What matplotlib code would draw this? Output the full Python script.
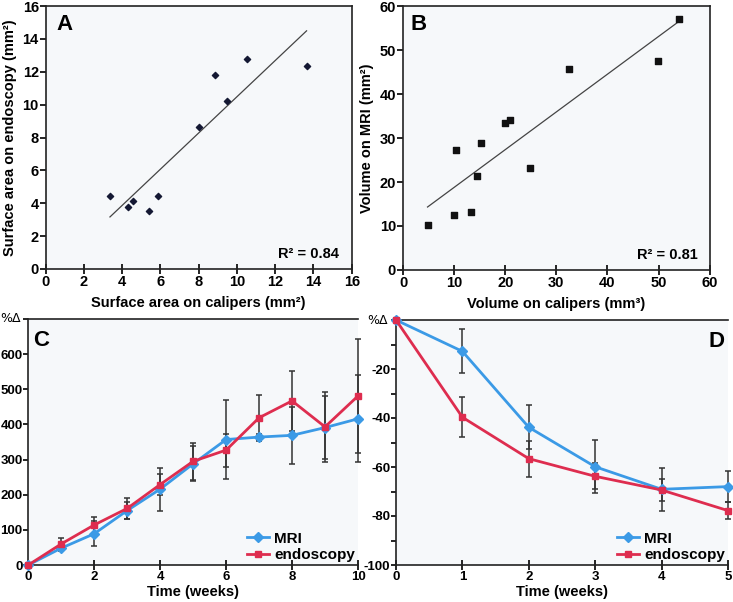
import matplotlib
matplotlib.use("Agg")
import numpy as np
import matplotlib.pyplot as plt

plt.rcParams['font.family'] = ['Liberation Sans', 'DejaVu Sans']
plt.rcParams['font.weight'] = 'bold'
plt.rcParams['axes.unicode_minus'] = False

# --- data: panel A (surface area) ---
a_calipers = [3.36, 4.29, 4.58, 5.40, 5.89, 8.01, 8.83, 9.46, 10.5, 13.64]
a_endoscopy = [4.45, 3.77, 4.13, 3.54, 4.45, 8.64, 11.78, 10.22, 12.77, 12.37]

# --- data: panel B (volume) ---
b_calipers = [4.8, 9.9, 10.4, 13.4, 14.5, 15.2, 20.0, 20.9, 24.8, 32.5, 49.9, 54.0]
b_mri = [10.2, 12.5, 27.2, 13.2, 21.3, 28.9, 33.4, 34.0, 23.2, 45.7, 47.6, 57.0]

# --- data: panel C (% change, growth) ---
c_weeks = [0, 1, 2, 3, 4, 5, 6, 7, 8, 9, 10]
c_mri = [0, 48, 89, 155, 216, 288, 357, 364, 369, 391, 416]
c_mri_err = [0, 8, 35, 25, 61, 50, 113, 10, 81, 90, 124]
c_endo = [0, 60, 114, 161, 229, 295, 327, 419, 467, 393, 481]
c_endo_err = [0, 16, 24, 30, 31, 53, 47, 64, 85, 100, 163]

# --- data: panel D (% change, regression) ---
d_weeks = [0, 1, 2, 3, 4, 5]
d_mri = [0, -12.8, -43.8, -59.9, -69.1, -68.0]
d_mri_err = [0, 9.0, 9.0, 10.8, 8.7, 6.3]
d_endo = [0, -39.7, -56.6, -63.8, -69.4, -77.8]
d_endo_err = [0, 8.2, 7.4, 5.3, 4.5, 3.6]

W, H = 733, 602
fig = plt.figure(figsize=(W / 100, H / 100), dpi=100)

def box(l, t, r, b):
    return [l / W, 1 - b / H, (r - l) / W, (b - t) / H]

BG = '#f6f8fa'
BLUE = '#3b9ae6'
RED = '#de2d4f'
ERR = '#333333'

def style(ax, right=True, size=10.5, ylen=4, ypad=1):
    ax.set_facecolor(BG)
    for s in ax.spines.values():
        s.set_linewidth(1.2)
        s.set_color('#222222')
    if not right:
        ax.spines['right'].set_visible(False)
    ax.tick_params(axis='y', direction='out', length=ylen, width=1.2, labelsize=size, pad=ypad)
    ax.tick_params(axis='x', direction='inout', length=7, width=1.2, labelsize=size, pad=1)
    for lab in ax.get_xticklabels() + ax.get_yticklabels():
        lab.set_fontweight('bold')

# Panel A
axA = fig.add_axes(box(45.7, 6, 351.7, 269))
axA.scatter(a_calipers, a_endoscopy, marker='D', s=10, color='#141833', zorder=3)
k, b0 = np.polyfit(a_calipers, a_endoscopy, 1)
xs = np.array([min(a_calipers), max(a_calipers)])
axA.plot(xs, k * xs + b0, color='#444444', lw=0.9)
axA.set_xlim(0, 16)
axA.set_ylim(0, 16)
axA.set_xticks(range(0, 17, 2))
axA.set_yticks(range(0, 17, 2))
style(axA)
axA.set_xlabel('Surface area on calipers (mm²)', fontsize=10.5, fontweight='bold', labelpad=5)
axA.set_ylabel('Surface area on endoscopy (mm²)', fontsize=10.5, fontweight='bold', labelpad=4)
axA.text(0.035, 0.97, 'A', transform=axA.transAxes, fontsize=16, fontweight='bold', va='top')
axA.text(0.96, 0.03, 'R² = 0.84', transform=axA.transAxes, fontsize=10.5, fontweight='bold',
         ha='right', va='bottom')

# Panel B
axB = fig.add_axes(box(403, 6, 709.7, 270))
axB.scatter(b_calipers, b_mri, marker='s', s=16, color='#111111', zorder=3)
k, b0 = np.polyfit(b_calipers, b_mri, 1)
xs = np.array([min(b_calipers), max(b_calipers)])
axB.plot(xs, k * xs + b0, color='#444444', lw=0.9)
axB.set_xlim(0, 60)
axB.set_ylim(0, 60)
axB.set_xticks(range(0, 61, 10))
axB.set_yticks(range(0, 61, 10))
style(axB)
axB.set_xlabel('Volume on calipers (mm³)', fontsize=10.5, fontweight='bold', labelpad=5)
axB.set_ylabel('Volume on MRI (mm²)', fontsize=10.5, fontweight='bold', labelpad=4)
axB.text(0.025, 0.97, 'B', transform=axB.transAxes, fontsize=16, fontweight='bold', va='top')
axB.text(0.96, 0.03, 'R² = 0.81', transform=axB.transAxes, fontsize=10.5, fontweight='bold',
         ha='right', va='bottom')

def series(ax, x, y, err, color, marker, label):
    ax.errorbar(x, y, yerr=err, fmt='none', ecolor=ERR, elinewidth=1.1, capsize=2.5,
                capthick=1.1, zorder=2, clip_on=False)
    ax.plot(x, y, color=color, lw=2, marker=marker, ms=5 if marker == 's' else 5.5,
            label=label, zorder=3, clip_on=False)

def legend(ax):
    leg = ax.legend(loc='lower right', frameon=False, fontsize=11, handlelength=1.4,
                    handletextpad=0.35, labelspacing=0.15, borderaxespad=0.05,
                    borderpad=0.15)
    for t in leg.get_texts():
        t.set_fontweight('bold')

# Panel C
axC = fig.add_axes(box(28.3, 319, 358, 565))
series(axC, c_weeks, c_mri, c_mri_err, BLUE, 'D', 'MRI')
series(axC, c_weeks, c_endo, c_endo_err, RED, 's', 'endoscopy')
axC.set_xlim(0, 10)
axC.set_ylim(0, 700)
axC.set_xticks(range(0, 11, 2))
axC.set_yticks(range(0, 701, 100))
axC.set_yticklabels([str(v) if v < 700 else '' for v in range(0, 701, 100)])
style(axC, right=False, size=9.5, ylen=3.5, ypad=0.5)
axC.set_xlabel('Time (weeks)', fontsize=10.5, fontweight='bold', labelpad=1)
axC.text(0.015, 0.955, 'C', transform=axC.transAxes, fontsize=16, fontweight='bold', va='top')
axC.text(-0.055, 1.0, '%Δ', transform=axC.transAxes, fontsize=9, ha='center', va='center',
         fontweight='normal', family=['DejaVu Sans'])
legend(axC)

# Panel D
axD = fig.add_axes(box(396, 320, 728, 565))
series(axD, d_weeks, d_mri, d_mri_err, BLUE, 'D', 'MRI')
series(axD, d_weeks, d_endo, d_endo_err, RED, 's', 'endoscopy')
axD.set_xlim(0, 5)
axD.set_ylim(-100, 0)
axD.set_xticks(range(0, 6))
yt = list(range(-100, 1, 10))
axD.set_yticks(yt)
axD.set_yticklabels([str(v) if (v % 20 == 0 and v != 0) else '' for v in yt])
style(axD, right=False, size=9.5, ylen=3.5, ypad=0.5)
axD.set_xlabel('Time (weeks)', fontsize=10.5, fontweight='bold', labelpad=1)
axD.text(0.99, 0.955, 'D', transform=axD.transAxes, fontsize=16, fontweight='bold',
         va='top', ha='right')
axD.text(-0.055, 1.0, '%Δ', transform=axD.transAxes, fontsize=9, ha='center', va='center',
         fontweight='normal', family=['DejaVu Sans'])
legend(axD)

fig.savefig('out.png', dpi=100, facecolor='white')
